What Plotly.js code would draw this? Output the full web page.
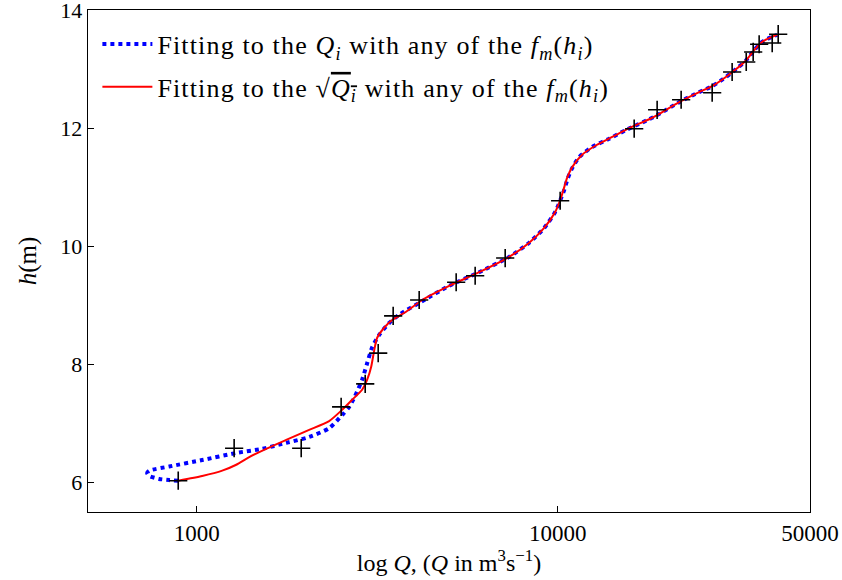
<!DOCTYPE html>
<html>
<head>
<meta charset="utf-8">
<script src="https://cdn.plot.ly/plotly-3.0.1.min.js"></script>
<style>
html,body{margin:0;padding:0;background:#fff;}
#chart{width:842px;height:580px;}
.legendtext{letter-spacing:1.15px;}
</style>
</head>
<body>
<div id="chart"></div>
<script>
// Observed gauging points (Q in m^3/s, h in m)
const obsQ = [889,1270,1948,2513,2930,3183,3502,4134,5234,5908,7155,10160,16290,18860,21980,26790,30430,33290,34800,36150,39290,40820];
const obsH = [6.03,6.58,6.58,7.28,7.67,8.19,8.82,9.09,9.39,9.50,9.80,10.77,11.99,12.31,12.48,12.60,12.95,13.12,13.29,13.42,13.44,13.59];

// Fit to Q_i (blue dotted)
const blueQ = [889,839,787,739,729,739,839,1036,1287,1519,1770,2049,2328,2529,2645,2740,2873,2967,3063,3203,3413,3639,4213,5005,6060,7340,8341,9176,9843,10423,10625,10900,11470,12460,13890,15480,17930,18870,21710,24660,26790,29300,31230,33290,35030,36860,39030,40550];
const blueH = [6.03,6.04,6.06,6.11,6.16,6.20,6.27,6.38,6.50,6.57,6.67,6.77,6.92,7.14,7.28,7.45,7.74,8.02,8.29,8.50,8.70,8.84,9.07,9.33,9.56,9.82,10.06,10.31,10.58,10.95,11.12,11.29,11.51,11.68,11.82,11.97,12.15,12.22,12.44,12.61,12.71,12.87,13.00,13.15,13.32,13.46,13.54,13.58];

// Fit to sqrt(Q_i) (red solid)
const redQ = [889,1036,1177,1287,1398,1558,1770,2049,2328,2529,2696,2873,2967,3044,3103,3162,3307,3480,3804,4213,5005,6060,7340,8341,9176,9843,10226,10625,10970,11690,12785,14160,15780,17930,18870,21710,24660,26790,29300,31230,33290,35030,36860,39030,40550];
const redH = [6.03,6.11,6.20,6.30,6.43,6.57,6.72,6.89,7.04,7.23,7.40,7.57,7.74,7.96,8.24,8.45,8.62,8.75,8.89,9.09,9.33,9.56,9.82,10.06,10.31,10.58,10.83,11.16,11.34,11.55,11.71,11.85,12.00,12.15,12.22,12.44,12.61,12.71,12.87,13.00,13.15,13.32,13.46,13.54,13.58];

const xTickVals = [1000,10000,50000];
const xTickText = ['1000','10000','50000'];
const yTickVals = [6,8,10,12,14];

const legendBlue = 'Fitting to the <i>Q<sub>i</sub></i> with any of the <i>f<sub>m</sub></i>(<i>h<sub>i</sub></i>)';
const legendRed = 'Fitting to the √<span style="text-decoration:overline"><i>Q<sub>i</sub></i></span> with any of the <i>f<sub>m</sub></i>(<i>h<sub>i</sub></i>)';

const FONT = 'Liberation Serif, Times New Roman, serif';

const traces = [
  {x: blueQ, y: blueH, type: 'scatter', mode: 'lines', name: legendBlue, legendgroup: 'a',
   line: {color: '#0000ff', width: 4, dash: 'dot', shape: 'spline', smoothing: 0.6}},
  {x: redQ, y: redH, type: 'scatter', mode: 'lines', name: legendRed, legendgroup: 'b',
   line: {color: '#ff0000', width: 2, shape: 'spline', smoothing: 0.6}},
  {x: obsQ, y: obsH, type: 'scatter', mode: 'markers', showlegend: false,
   marker: {symbol: 'cross-thin', size: 13, line: {color: '#000', width: 1.6}, color: '#000'}}
];

const layout = {
  width: 842, height: 580,
  margin: {l: 88, r: 32, t: 10, b: 68},
  paper_bgcolor: '#fff', plot_bgcolor: '#fff',
  font: {family: FONT, size: 23, color: '#000'},
  showlegend: true,
  legend: {x: 0.013, y: 0.979, xanchor: 'left', yanchor: 'top', bgcolor: 'rgba(0,0,0,0)',
           font: {family: FONT, size: 26, color: '#000'}, tracegroupgap: 6, itemwidth: 50},
  xaxis: {type: 'log', range: [Math.log10(500), Math.log10(50000)],
          tickvals: xTickVals, ticktext: xTickText, ticks: 'inside', ticklen: 6, tickwidth: 1,
          tickcolor: '#000', showgrid: false, zeroline: false, showline: true, mirror: true,
          linecolor: '#000', linewidth: 1.3, tickfont: {family: FONT, size: 23}, ticklabeloverflow: 'allow',
          title: {text: 'log <i>Q</i>, (<i>Q</i> in m<sup>3</sup>s<sup>−1</sup>)', font: {family: FONT, size: 24}, standoff: 4}},
  yaxis: {range: [5.5, 14], tickvals: yTickVals, ticks: 'inside', ticklen: 6, tickwidth: 1,
          tickcolor: '#000', showgrid: false, zeroline: false, showline: true, mirror: true,
          linecolor: '#000', linewidth: 1.3, tickfont: {family: FONT, size: 22}, ticklabeloverflow: 'allow',
          title: {text: '<i>h</i>(m)', font: {family: FONT, size: 25}, standoff: 16}}
};

Plotly.newPlot('chart', traces, layout, {displayModeBar: false, staticPlot: true});
</script>
</body>
</html>
